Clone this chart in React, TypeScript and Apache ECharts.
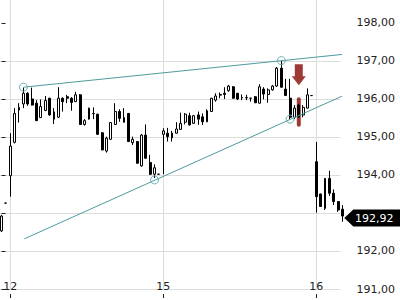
import React, { useEffect, useRef } from 'react';
import * as echarts from 'echarts';

// each bar: [open, close, low, high]
const prevDayTail = [
  [192.53, 192.92, 192.50, 192.95],
  [193.26, 193.26, 193.25, 193.27],
];
const day12Bars = [
  [193.98, 194.76, 193.43, 195.10],
  [194.86, 195.62, 194.83, 195.76],
  [195.71, 195.78, 195.38, 195.89],
  [195.87, 196.15, 195.76, 196.30],
  [196.15, 195.87, 195.82, 196.18],
  [196.00, 195.84, 195.83, 196.30],
  [195.89, 195.43, 195.42, 195.97],
  [195.51, 195.80, 195.50, 195.99],
  [195.70, 195.96, 195.68, 196.08],
  [196.02, 195.58, 195.56, 196.03],
  [195.66, 195.47, 195.34, 195.76],
  [195.52, 196.02, 195.50, 196.31],
  [196.02, 195.93, 195.67, 196.04],
  [196.06, 196.02, 195.89, 196.11],
  [196.02, 195.91, 195.69, 196.05],
  [195.93, 196.11, 195.92, 196.19],
  [196.11, 195.33, 195.32, 196.13],
  [195.33, 195.43, 195.30, 195.47],
  [195.47, 195.76, 195.46, 195.77],
  [195.62, 195.61, 195.47, 195.78],
  [195.60, 195.07, 195.06, 195.61],
  [195.11, 194.66, 194.65, 195.13],
  [194.63, 194.97, 194.59, 195.01],
  [194.94, 195.38, 194.93, 195.39],
  [195.33, 195.67, 195.32, 195.89],
  [195.67, 195.49, 195.40, 195.73],
  [195.51, 195.39, 195.38, 195.76],
  [195.62, 194.88, 194.87, 195.63],
  [194.85, 194.94, 194.79, 195.01],
  [194.88, 194.31, 194.30, 194.89],
  [194.24, 195.05, 194.22, 195.08],
  [195.05, 194.44, 194.43, 195.33],
  [194.33, 194.02, 194.00, 194.53],
  [194.02, 194.19, 193.92, 194.28],
  [194.02, 194.02, 194.01, 194.03],
];
const day15Bars = [
  [195.07, 195.16, 194.02, 195.23],
  [195.10, 195.01, 194.88, 195.24],
  [195.10, 194.98, 194.88, 195.16],
  [195.10, 195.21, 195.09, 195.39],
  [195.20, 195.36, 195.19, 195.64],
  [195.39, 195.60, 195.33, 195.63],
  [195.56, 195.32, 195.30, 195.64],
  [195.36, 195.56, 195.34, 195.58],
  [195.58, 195.47, 195.32, 195.67],
  [195.53, 195.40, 195.32, 195.62],
  [195.40, 195.69, 195.39, 195.73],
  [195.67, 196.02, 195.66, 196.03],
  [195.97, 196.08, 195.93, 196.15],
  [196.10, 196.12, 196.02, 196.17],
  [196.15, 196.12, 196.00, 196.31],
  [196.22, 196.34, 196.19, 196.37],
  [196.32, 196.02, 196.01, 196.34],
  [196.15, 196.00, 195.97, 196.16],
  [196.04, 196.03, 195.97, 196.12],
  [196.03, 196.04, 195.97, 196.11],
  [196.02, 196.02, 195.93, 196.03],
  [196.06, 195.90, 195.90, 196.08],
  [195.89, 196.32, 195.88, 196.39],
  [196.26, 196.13, 195.99, 196.31],
  [196.12, 196.24, 195.90, 196.28],
  [196.24, 196.34, 196.22, 196.37],
  [196.34, 196.81, 196.32, 196.84],
  [196.81, 196.31, 196.30, 197.00],
  [196.26, 196.09, 196.08, 196.53],
  [196.02, 195.52, 195.46, 196.53],
  [195.52, 195.76, 195.47, 195.84],
  [195.84, 195.53, 195.50, 195.87],
  [195.58, 195.78, 195.52, 195.84],
  [195.76, 196.11, 195.75, 196.28],
  [196.09, 196.09, 196.08, 196.10],
];
const day16Bars = [
  [194.35, 193.43, 193.01, 194.87],
  [193.50, 193.17, 193.16, 193.51],
  [193.12, 193.91, 193.08, 193.92],
  [193.91, 193.52, 193.45, 194.11],
  [193.52, 193.30, 193.21, 193.62],
  [193.30, 193.08, 193.03, 193.31],
  [193.10, 192.92, 192.77, 193.21],
];
const dayNames = ['12', '15', '16'];
const priceTicks = [191, 192, 193, 194, 195, 196, 197, 198];
const lastPrice = 192.92;
// trend lines and touch points: [bar index, price]
const upperTrendLine = [[5, 196.31], [78.57, 197.18]];
const lowerTrendLine = [[5.2, 192.32], [78.57, 196.11]];
const touchPoints = [[5, 196.31], [64, 197.01], [35, 193.87], [66, 195.47]];
const signalArrow = [[68, 196.64]];
const signalRange = [[68, 195.99], [68, 195.32]];

const fmt = (v: number) => v.toFixed(2).replace('.', ',');

export default function App() {
  const ref = useRef<HTMLDivElement>(null);
  useEffect(() => {
    const chart = echarts.init(ref.current!, null, { renderer: 'svg' });
    const days = [day12Bars, day15Bars, day16Bars];
    const allBars = [...prevDayTail, ...day12Bars, ...day15Bars, ...day16Bars];
    const dayStarts: number[] = [];
    let start = prevDayTail.length;
    days.forEach((d) => {
      dayStarts.push(start);
      start += d.length;
    });
    const candles = allBars.map((b, i) => [i, b[0], b[1], b[2], b[3]]);
    const lastIndex = allBars.length - 1;
    const gridColor = '#dcdcdc';
    const teal = '#4f9a9e';
    const signalRed = '#9e3a35';
    const labelTicks = priceTicks.filter((v) => Math.abs(v - lastPrice) > 0.3);

    const option = {
      animation: false,
      textStyle: { fontFamily: 'DejaVu Sans' },
      grid: { left: 0, top: 0, right: 59.5, bottom: 11, containLabel: false },
      xAxis: {
        type: 'value',
        min: -0.357,
        max: 77.54,
        position: 'bottom',
        offset: 5,
        axisLine: { show: false },
        axisTick: { show: true, customValues: dayStarts, length: 4, lineStyle: { color: '#222' } },
        axisLabel: {
          customValues: dayStarts,
          formatter: (v: number) => {
            const k = dayStarts.indexOf(Math.round(v));
            return k >= 0 ? dayNames[k] : '';
          },
          margin: -13,
          color: '#222',
          fontSize: 11,
        },
        splitLine: { show: true, lineStyle: { color: gridColor, width: 1 } },
      },
      yAxis: {
        type: 'value',
        position: 'right',
        min: 191,
        max: 198.605,
        interval: 1,
        offset: 5,
        axisLine: { show: false },
        axisTick: { show: true, customValues: priceTicks, length: 4, lineStyle: { color: '#222' } },
        axisLabel: { customValues: labelTicks, formatter: fmt, margin: 11, color: '#222', fontSize: 11 },
        splitLine: { show: true, showMaxLine: false, lineStyle: { color: gridColor, width: 1 } },
      },
      series: [
        {
          type: 'line',
          data: signalRange,
          showSymbol: false,
          clip: false,
          z: 1,
          lineStyle: { color: signalRed, width: 4, cap: 'round', opacity: 1 },
        },
        {
          type: 'candlestick',
          data: candles,
          barWidth: 2.4,
          clip: false,
          z: 3,
          itemStyle: {
            color: '#ffffff',
            color0: '#000000',
            borderColor: '#000000',
            borderColor0: '#000000',
            borderWidth: 1,
          },
        },
        {
          type: 'line',
          data: upperTrendLine,
          showSymbol: false,
          clip: false,
          z: 4,
          lineStyle: { color: teal, width: 1 },
        },
        {
          type: 'line',
          data: lowerTrendLine,
          showSymbol: false,
          clip: false,
          z: 4,
          lineStyle: { color: teal, width: 1 },
        },
        {
          type: 'scatter',
          data: touchPoints,
          symbol: 'circle',
          symbolSize: 8,
          clip: false,
          z: 5,
          itemStyle: { color: 'rgba(255,255,255,0)', borderColor: '#6aaeb0', borderWidth: 1, opacity: 1 },
        },
        {
          type: 'scatter',
          data: signalArrow,
          symbol: 'path://M3,0L11,0L11,12L14,12L7,21L0,12L3,12Z',
          symbolSize: [14, 21],
          clip: false,
          z: 6,
          itemStyle: { color: signalRed, opacity: 1 },
        },
        {
          type: 'scatter',
          data: [[lastIndex, lastPrice]],
          symbol: 'path://M0,8.5L9,0L60,0L60,17L9,17Z',
          symbolSize: [60, 17],
          symbolOffset: [31.8, 2],
          clip: false,
          z: 10,
          itemStyle: { color: '#000000', opacity: 1 },
          label: {
            show: true,
            position: 'inside',
            formatter: () => fmt(lastPrice),
            color: '#ffffff',
            fontSize: 11,
            fontFamily: 'DejaVu Sans',
          },
        },
      ],
    };
    chart.setOption(option as any);
    return () => chart.dispose();
  }, []);
  return <div ref={ref} style={{ position: 'absolute', left: 0, top: 0, width: 400, height: 300 }} />;
}
